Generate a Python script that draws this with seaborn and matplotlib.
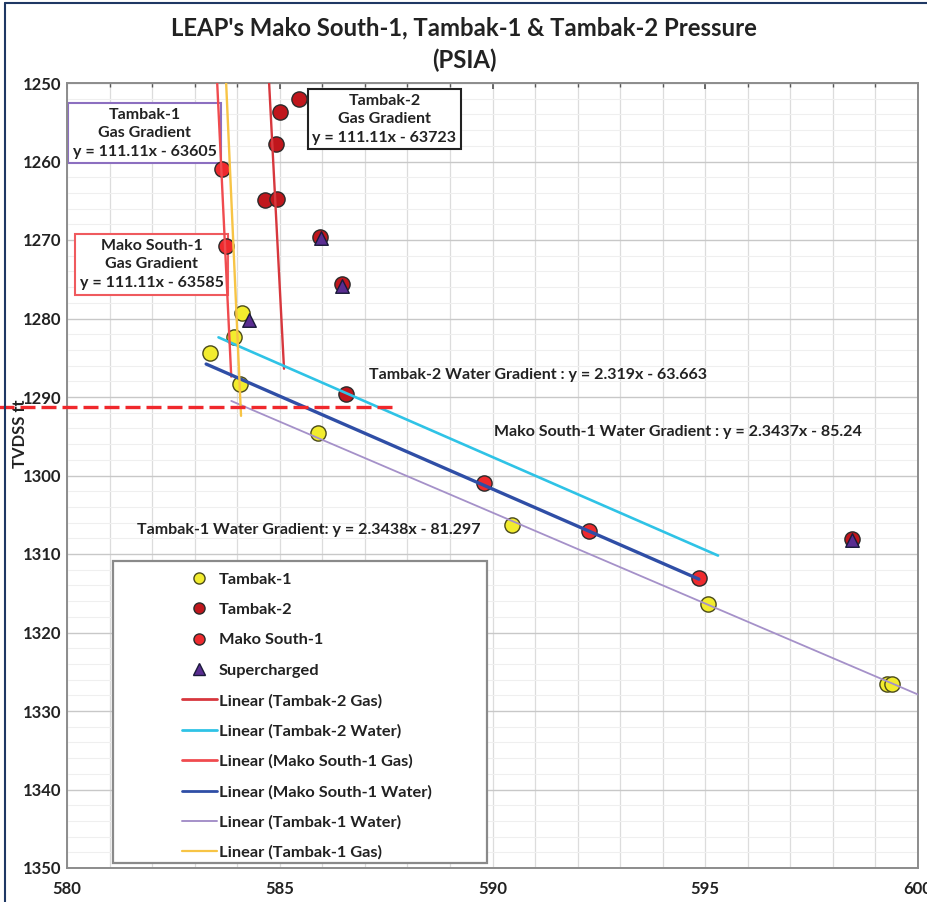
import matplotlib
matplotlib.use("Agg")
import matplotlib.pyplot as plt
import seaborn as sns
import pandas as pd
from matplotlib.lines import Line2D
from matplotlib.patches import Rectangle
from matplotlib.ticker import MultipleLocator

# ---------------- data ----------------
t1_psia = [583.35, 583.93, 584.12, 584.07, 585.90, 590.45, 595.06, 599.27, 599.40]
t1_tvdss = [1284.4, 1282.4, 1279.3, 1288.3, 1294.6, 1306.3, 1316.4, 1326.5, 1326.5]

t2_psia = [585.45, 585.00, 584.91, 584.65, 584.93, 585.95, 586.47, 586.55, 598.45]
t2_tvdss = [1252.0, 1253.7, 1257.8, 1264.9, 1264.8, 1269.6, 1275.6, 1289.6, 1308.1]

ms_psia = [583.65, 583.74, 589.80, 592.26, 594.85]
ms_tvdss = [1260.9, 1270.8, 1301.0, 1307.1, 1313.1]

sc_psia = [585.97, 586.47, 584.28, 598.45]
sc_tvdss = [1269.8, 1275.8, 1280.2, 1308.2]

# trend line end points
t2_gas_psia, t2_gas_tvdss = [584.75, 585.10], [1250.0, 1286.4]
t2_wat_psia, t2_wat_tvdss = [583.56, 595.30], [1282.4, 1310.2]
ms_gas_psia, ms_gas_tvdss = [583.53, 583.86], [1250.0, 1287.4]
ms_wat_psia, ms_wat_tvdss = [583.27, 594.85], [1285.8, 1313.2]
t1_wat_psia, t1_wat_tvdss = [583.86, 600.00], [1290.5, 1327.9]
t1_gas_psia, t1_gas_tvdss = [583.74, 584.09], [1250.0, 1292.4]

contact_psia, contact_tvdss = [578.40, 587.67], [1291.3, 1291.3]

x_ticks = [580, 585, 590, 595, 600]
y_ticks = [1250, 1260, 1270, 1280, 1290, 1300, 1310, 1320, 1330, 1340, 1350]

title_l1 = "LEAP's Mako South-1, Tambak-1 & Tambak-2 Pressure"
title_l2 = "(PSIA)"

# ---------------- style ----------------
sns.set_theme(style="white")
plt.rcParams['font.family'] = ['Lato', 'DejaVu Sans']
plt.rcParams['font.weight'] = 'bold'

fig = plt.figure(figsize=(9.28, 9.02), dpi=100)
ax = fig.add_axes([67/928, 1-868/902, (918-67)/928, (868-83)/902])

C_T1 = "#f2ec2e"
C_T2 = "#c0161c"
C_MS = "#ee2a2e"
C_SC = "#5a2d91"
L_T2GAS = "#d7373d"
L_T2WAT = "#2fc3e6"
L_MSGAS = "#f04b4f"
L_MSWAT = "#2f4ea6"
L_T1WAT = "#a591c9"
L_T1GAS = "#f7c445"

def line(px, py, color, lw, z):
    df = pd.DataFrame({"psia": px, "tvdss": py})
    sns.lineplot(data=df, x="psia", y="tvdss", ax=ax, color=color, lw=lw,
                 estimator=None, sort=False, zorder=z, legend=False)

def pts(px, py, color, marker, s, z, ec="#2a2a2a"):
    df = pd.DataFrame({"psia": px, "tvdss": py})
    sns.scatterplot(data=df, x="psia", y="tvdss", ax=ax, color=color, marker=marker,
                    s=s, edgecolor=ec, linewidth=1.0, zorder=z, legend=False)

pts(t1_psia, t1_tvdss, C_T1, "o", 120, 3, ec="#4a4a1a")
pts(t2_psia, t2_tvdss, C_T2, "o", 120, 3)
pts(ms_psia, ms_tvdss, C_MS, "o", 120, 3)

line(t2_gas_psia, t2_gas_tvdss, L_T2GAS, 1.7, 4)
line(t2_wat_psia, t2_wat_tvdss, L_T2WAT, 1.9, 4)
line(ms_gas_psia, ms_gas_tvdss, L_MSGAS, 1.7, 4)
line(ms_wat_psia, ms_wat_tvdss, L_MSWAT, 2.4, 4)
line(t1_wat_psia, t1_wat_tvdss, L_T1WAT, 1.3, 4)
line(t1_gas_psia, t1_gas_tvdss, L_T1GAS, 1.7, 4)

pts(sc_psia, sc_tvdss, C_SC, "^", 95, 5, ec="#1a1a3a")

ax.plot(contact_psia, contact_tvdss, color="#f0282c", lw=2.4, dashes=(4.5, 1.8),
        clip_on=False, zorder=6)

# ---------------- axes ----------------
ax.set_xlim(580, 600)
ax.set_ylim(1350, 1250)
ax.set_xticks(x_ticks)
ax.set_yticks(y_ticks)
ax.xaxis.set_minor_locator(MultipleLocator(1))
ax.yaxis.set_minor_locator(MultipleLocator(2))
ax.grid(which="major", axis="y", color="#c8c8c8", lw=1.0)
ax.grid(which="minor", axis="y", color="#efefef", lw=0.8)
ax.grid(which="both", axis="x", color="#dcdcdc", lw=0.9)
ax.set_axisbelow(True)
for sp in ax.spines.values():
    sp.set_color("#8c8c8c")
    sp.set_linewidth(1.4)
ax.tick_params(axis="both", which="both", direction="in", colors="#555555",
               labelcolor="#222222")
ax.tick_params(axis="both", which="major", length=4, labelsize=12)
ax.tick_params(axis="both", which="minor", length=3)
ax.tick_params(axis="y", pad=4)
ax.tick_params(axis="x", pad=9)
ax.tick_params(axis="x", which="both", top=True)
for lab in ax.get_xticklabels() + ax.get_yticklabels():
    lab.set_fontweight("bold")
ax.set_xlabel("")
ax.set_ylabel("TVDSS ft", fontsize=12, fontweight="bold", color="#222222")
ax.yaxis.set_label_coords(-0.046, 0.553)

# ---------------- annotations ----------------
ann_kw = dict(fontsize=11.5, fontweight="bold", color="#222222")
box_kw = dict(ha="center", va="center", linespacing=1.4, zorder=2.5)
ax.text(581.82, 1256.4, "Tambak-1\nGas Gradient\ny = 111.11x - 63605",
        bbox=dict(boxstyle="square,pad=0.3", fc="white", ec="#8c6fc0", lw=1.5), **box_kw, **ann_kw)
ax.text(581.99, 1273.1, "Mako South-1\nGas Gradient\ny = 111.11x - 63585",
        bbox=dict(boxstyle="square,pad=0.3", fc="white", ec="#ef5a5e", lw=1.5), **box_kw, **ann_kw)
ax.text(587.46, 1254.6, "Tambak-2\nGas Gradient\ny = 111.11x - 63723",
        bbox=dict(boxstyle="square,pad=0.3", fc="white", ec="#222222", lw=1.5), **box_kw, **ann_kw)
ax.text(587.09, 1287.2, "Tambak-2 Water Gradient : y = 2.319x - 63.663", ha="left", va="center", zorder=7, **ann_kw)
ax.text(590.04, 1294.4, "Mako South-1 Water Gradient : y = 2.3437x - 85.24", ha="left", va="center", zorder=7, **ann_kw)
ax.text(581.64, 1307.0, "Tambak-1 Water Gradient: y = 2.3438x - 81.297", ha="left", va="center", zorder=2.5, **ann_kw)

# ---------------- title ----------------
fig.text(0.5, 1-28/902, title_l1, ha="center", va="center", fontsize=17.2, fontweight="bold", color="#222222")
fig.text(0.5, 1-60/902, title_l2, ha="center", va="center", fontsize=17.2, fontweight="bold", color="#222222")

# ---------------- legend ----------------
fig.add_artist(Rectangle((113/928, 1-863/902), 374/928, 302/902, transform=fig.transFigure,
                         fc="white", ec="#8a8a8a", lw=1.6, zorder=8))
handles = [
    Line2D([], [], ls="", marker="o", ms=8, mfc=C_T1, mec="#4a4a1a", label="Tambak-1"),
    Line2D([], [], ls="", marker="o", ms=8, mfc=C_T2, mec="#2a2a2a", label="Tambak-2"),
    Line2D([], [], ls="", marker="o", ms=8, mfc=C_MS, mec="#2a2a2a", label="Mako South-1"),
    Line2D([], [], ls="", marker="^", ms=8, mfc=C_SC, mec="#1a1a3a", label="Supercharged"),
    Line2D([], [], color=L_T2GAS, lw=2.0, label="Linear (Tambak-2 Gas)"),
    Line2D([], [], color=L_T2WAT, lw=2.0, label="Linear (Tambak-2 Water)"),
    Line2D([], [], color=L_MSGAS, lw=2.0, label="Linear (Mako South-1 Gas)"),
    Line2D([], [], color=L_MSWAT, lw=2.0, label="Linear (Mako South-1 Water)"),
    Line2D([], [], color=L_T1WAT, lw=1.4, label="Linear (Tambak-1 Water)"),
    Line2D([], [], color=L_T1GAS, lw=1.6, label="Linear (Tambak-1 Gas)"),
]
leg = fig.legend(handles=handles, loc="upper left", bbox_to_anchor=(174/928, 1-564/902),
                 bbox_transform=fig.transFigure, frameon=False,
                 handlelength=2.1, handletextpad=0.12, labelspacing=0.97, borderpad=0,
                 prop={"weight": "bold", "size": 11.8})
leg.set_zorder(9)
for t in leg.get_texts():
    t.set_color("#222222")

# frame border of the whole picture (left and top)
fig.add_artist(Line2D([5/928, 5/928], [0, 1-3/902], transform=fig.transFigure, color="#1f3864", lw=1.5))
fig.add_artist(Line2D([5/928, 1], [1-3/902, 1-3/902], transform=fig.transFigure, color="#1f3864", lw=1.5))

fig.savefig("out.png", dpi=100)
